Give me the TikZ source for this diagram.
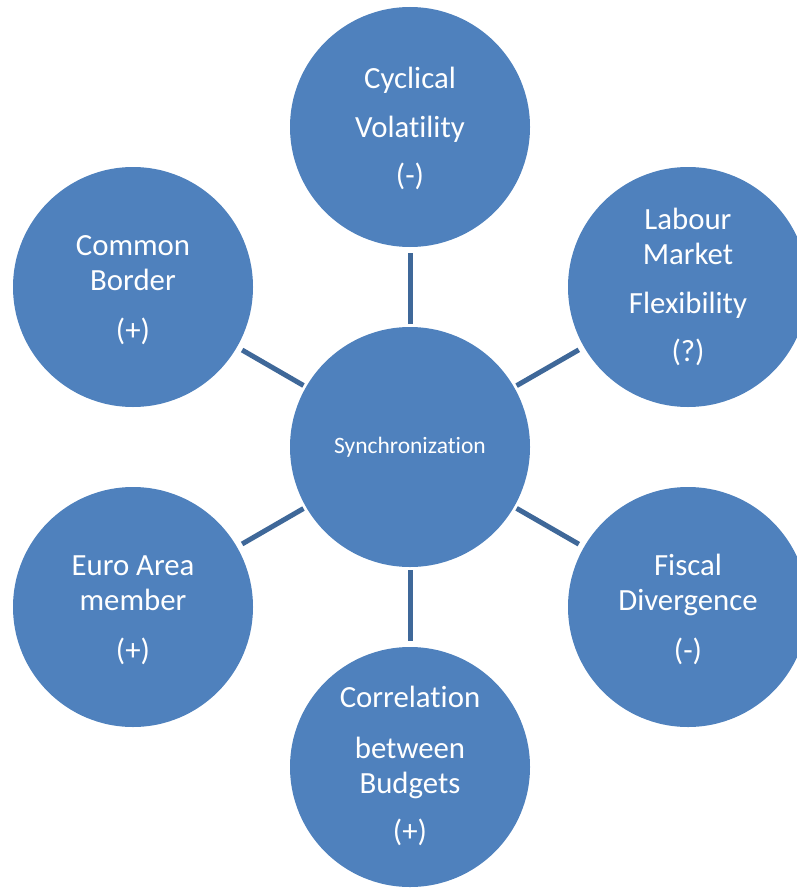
\documentclass[tikz,border=0pt]{standalone}
\usepackage{fontspec}
\setmainfont[Ligatures=NoCommon]{Carlito}
\definecolor{fillblue}{HTML}{4F81BD}
\definecolor{linkblue}{HTML}{3F6899}
\begin{document}
\begin{tikzpicture}[x=1pt,y=-1pt,
  bubble/.style={circle, fill=fillblue, minimum size=240pt, inner sep=0pt, outer sep=0pt},
  lbl/.style={text=white, align=center, font=\fontsize{30.8}{35}\selectfont, anchor=base, inner sep=0pt},
  hublbl/.style={text=white, font=\fontsize{23.5}{28}\selectfont, anchor=base, inner sep=0pt},
  link/.style={draw=linkblue, line width=5pt, shorten <=3pt, shorten >=6pt}]
\useasboundingbox (0,0) rectangle (796,888);
\node[bubble] (hub) at (410,447) {};
\node[bubble] (top) at (410,127) {};
\node[bubble] (ur) at (688,287) {};
\node[bubble] (lr) at (688,607) {};
\node[bubble] (bot) at (410,767) {};
\node[bubble] (ll) at (133,607) {};
\node[bubble] (ul) at (133,287) {};
\draw[link] (hub) -- (top);
\draw[link] (hub) -- (ur);
\draw[link] (hub) -- (lr);
\draw[link] (hub) -- (bot);
\draw[link] (hub) -- (ll);
\draw[link] (hub) -- (ul);
\node[hublbl] (hubtext) at (410,453) {Synchronization};
\node[lbl] (toptext) at (410,185) {Cyclical\\[14pt]Volatility\\[13pt](-)};
\node[lbl] (urtext) at (688,361) {Labour\\Market\\[14pt]Flexibility\\[13pt](?)};
\node[lbl] (ultext) at (133,340) {Common\\Border\\[15pt](+)};
\node[lbl] (lltext) at (133,660) {Euro Area\\member\\[15pt](+)};
\node[lbl] (lrtext) at (688,660) {Fiscal\\Divergence\\[15pt](-)};
\node[lbl] (bottext) at (410,841) {Correlation\\[16pt]between\\Budgets\\[13pt](+)};
\end{tikzpicture}
\end{document}
